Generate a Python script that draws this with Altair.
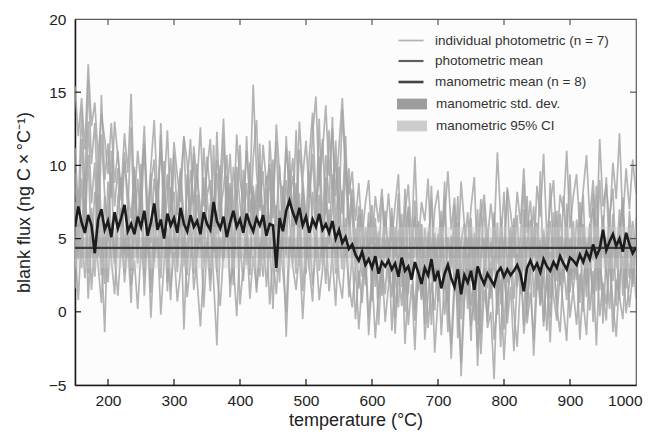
import altair as alt
import pandas as pd

# temperature grid (°C)
temps = list(range(150, 1001, 5))

# individual photometric blank runs (ng C x °C^-1), read approx. from figure
s1 = [9.5, 4.2, 11.8, 6.1, 13.0, 7.4, 10.2, 3.8, 12.1, 8.0, 5.6, 11.0, 7.2, 9.8, 4.5, 10.9, 6.8, 12.6, 5.1,
      9.1, 6.3, 11.5, 4.9, 8.7, 10.4, 5.8, 12.9, 7.0, 9.4, 3.9, 10.8, 6.6, 8.9, 11.9, 5.2, 9.7, 7.3, 10.1,
      4.6, 11.2, 7.9, 9.0, 5.5, 12.3, 6.9, 8.4, 10.7, 4.8, 9.9, 7.6, 11.4, 6.0, 8.8, 5.3, 10.5, 13.1, 7.1,
      9.6, 5.0, 11.7, 8.1, 6.4, 10.0, 4.7, 12.0, 7.7, 9.3, 5.9, 11.1, 8.5, 6.2, 10.6, 13.6, 7.5, 9.2, 11.8,
      6.7, 12.4, 8.3, 10.3, 7.0, 13.8, 9.1, 6.0, 8.4, 4.1, 7.2, 5.0, 3.2, 6.8, 2.4, 5.9, 3.6, 7.8, 4.3,
      2.9, 6.5, 3.8, 8.1, 1.7, 5.4, 7.0, 2.2, 4.9, 6.2, 0.8, 5.7, 3.5, 8.6, 2.6, 4.4, 6.9, 1.5, 5.1,
      3.0, 7.3, 0.4, 4.8, 6.0, 1.9, 5.5, -0.6, 4.1, 7.7, 2.8, 5.2, 0.9, 6.4, 3.3, 4.6, 8.2, 2.0, 5.8,
      3.7, 6.6, 1.2, 5.0, 7.9, 2.5, 4.3, 6.1, 0.6, 5.6, 3.1, 8.8, 4.0, 2.1, 6.7, 3.9, 5.3, 9.4, 2.7,
      6.3, 4.5, 8.0, 1.8, 5.9, 7.1, 3.4, 9.0, 4.8, 2.3, 6.5, 8.4, 3.0, 5.7, 7.6, 1.6, 6.9, 4.2, 5.5]
s2 = [3.1, 8.4, 5.0, 9.7, 2.6, 7.1, 4.3, 10.5, 6.2, 1.9, 8.9, 5.5, 3.4, 7.8, 9.2, 4.0, 6.7, 2.8, 8.1,
      5.2, 10.1, 3.7, 7.4, 2.1, 6.0, 9.0, 4.5, 7.7, 1.4, 8.5, 5.8, 3.0, 9.6, 6.4, 2.5, 7.2, 10.8, 4.1,
      6.9, 3.3, 8.0, 5.1, 11.4, 2.7, 7.5, 4.6, 9.3, 6.1, 1.8, 8.3, 4.9, 7.0, 3.2, 10.2, 5.6, 8.7, 2.4,
      7.3, 4.8, 9.8, 3.6, 6.6, 2.0, 8.6, 5.3, 11.0, 4.2, 7.9, 3.1, 9.1, 6.3, 2.9, 8.2, 5.7, 10.6, 3.8,
      7.6, 5.0, 9.4, 2.6, 8.0, 4.4, 10.3, 6.8, 3.9, 5.7, 1.6, 4.6, 2.2, 6.1, 0.7, 3.8, 5.5, 1.1, 4.9,
      2.0, 6.3, -0.4, 3.6, 5.1, 1.3, 7.2, 2.7, 0.1, 4.5, 6.0, 1.8, 3.9, -0.9, 5.4, 2.4, 4.2, 7.8, 0.6,
      3.5, 5.9, -1.8, 2.9, 4.7, 0.2, 6.4, 1.6, -2.5, 3.8, 5.0, -0.7, 2.3, 6.8, 1.0, 4.4, -1.2, 3.1, 5.6,
      0.9, 4.0, 2.2, 7.0, -0.3, 3.4, 5.8, 1.5, 4.6, -1.0, 2.8, 6.2, 3.6, 0.4, 5.2, 2.0, 7.4, 1.3, 4.1,
      2.7, 6.6, 0.0, 4.8, 3.2, 8.1, 1.4, 5.0, -0.8, 3.9, 6.4, 2.1, 4.5, 0.8, 7.3, 3.0, 5.3, 1.9, 4.6]
s3 = [1.6, 6.0, 3.0, 7.7, 0.9, 5.2, 2.4, 8.0, 4.1, -1.4, 6.5, 3.6, 1.2, 5.8, 7.1, 2.0, 4.7, 0.6, 6.3,
      3.3, 7.9, 1.1, 5.5, -0.4, 4.2, 6.7, 2.3, 8.3, 3.9, 0.8, 5.9, 2.7, 7.0, -1.2, 4.6, 6.1, 1.5, 3.8,
      5.7, 0.3, 4.4, 7.4, 2.1, -2.3, 5.1, 3.5, 8.6, 1.0, 4.9, 6.8, 0.5, 3.1, 5.6, 2.5, 7.6, 1.3, 4.0,
      6.2, 1.7, 4.8, 0.2, 7.3, 3.4, 5.4, -1.7, 4.3, 6.6, 2.6, 8.1, 1.4, 4.7, 3.0, 0.7, 6.0, 2.8, 5.2,
      1.9, 7.0, 3.7, 0.4, 5.8, 2.9, 6.4, 1.0, 4.0, -0.5, 2.8, 0.6, 3.9, -1.6, 2.1, 4.7, -0.9, 3.2, 1.2,
      5.0, -1.3, 2.6, 0.3, 4.3, -2.2, 1.9, 3.5, -0.6, 2.4, 5.3, -1.9, 1.1, 3.7, -2.8, 0.9, 4.1, -0.2, 2.2,
      -3.2, 1.5, 3.8, -4.4, 0.7, 2.9, -2.0, 4.5, -3.7, 1.2, 3.3, -1.1, 0.0, -4.6, 2.6, -2.4, 3.9, -0.8, 1.7,
      -2.7, 2.3, 4.4, -1.5, 0.8, 3.0, -3.0, 1.9, 4.9, -0.7, 2.5, -2.1, 3.6, 0.3, -1.4, 2.9, 5.1, -0.4, 1.6,
      3.4, -1.9, 2.0, 4.6, 0.1, 2.8, -2.3, 3.7, 1.3, -0.6, 4.2, 0.5, -1.7, 2.4, 3.8, -0.1, 1.9, 4.0, 0.9]
s4 = [11.2, 7.0, 13.8, 8.5, 15.8, 10.1, 12.9, 6.9, 14.8, 9.0, 11.5, 7.8, 13.0, 10.6, 8.2, 12.2, 9.5, 14.9, 7.4,
      11.0, 8.6, 12.7, 6.5, 9.9, 13.1, 7.9, 10.9, 8.4, 12.4, 6.8, 11.6, 9.3, 7.5, 12.0, 10.2, 6.3, 11.3, 8.8,
      12.6, 7.2, 9.7, 11.8, 6.6, 10.4, 8.9, 13.2, 7.7, 10.8, 6.1, 12.1, 9.0, 7.4, 11.0, 8.0, 15.5, 9.6, 6.9,
      11.4, 8.7, 10.1, 6.4, 12.8, 9.4, 7.6, 11.2, 8.3, 10.5, 6.7, 13.0, 9.1, 11.7, 7.8, 12.2, 14.7, 8.6, 10.9,
      14.1, 9.3, 12.5, 7.9, 11.3, 14.6, 10.2, 8.0, 9.6, 6.2, 8.8, 5.1, 7.4, 9.0, 4.6, 7.9, 6.1, 8.4, 5.3,
      8.1, 4.9, 7.3, 9.4, 3.9, 6.8, 8.7, 5.0, 10.6, 4.4, 7.5, 6.2, 9.1, 3.5, 7.0, 8.3, 4.8, 6.4, 9.6,
      5.6, 7.8, 3.7, 8.9, 5.9, 4.3, 7.1, 9.2, 3.1, 6.6, 8.0, 4.9, 7.4, 5.2, 10.9, 6.3, 4.0, 8.5, 6.8,
      4.7, 8.2, 6.0, 9.8, 5.4, 7.6, 3.8, 8.6, 6.5, 10.8, 5.0, 7.3, 9.0, 4.5, 8.0, 6.9, 11.0, 5.7, 7.9,
      9.4, 5.5, 8.3, 10.7, 6.4, 9.0, 4.8, 11.8, 7.2, 8.7, 5.9, 10.2, 7.7, 12.2, 6.1, 9.8, 7.0, 10.4, 8.1]
s5 = [4.4, 0.8, 5.6, 2.3, 6.7, 1.5, 4.9, 3.2, 0.6, 5.4, 2.0, 6.1, 3.7, 1.1, 4.6, 2.7, 5.9, 1.8, 3.5,
      0.2, 4.3, 2.5, 6.4, 1.3, 3.9, 5.2, -0.2, 3.4, 5.7, 1.7, 4.1, 0.7, 2.9, 5.0, 1.0, 3.6, 6.2, 2.2,
      -1.0, 3.0, 4.8, 1.4, 5.5, 2.6, 0.4, 4.0, 6.0, 1.9, 3.3, -0.3, 4.5, 2.1, 5.3, 0.9, 3.8, 1.6, 4.7,
      2.4, 5.6, 0.5, 3.7, 1.2, 4.9, 2.8, 0.0, 5.2, 3.1, 1.5, 4.2, -0.5, 3.5, 5.8, 1.8, 4.4, 0.8, 2.9,
      5.1, 1.4, 3.9, 6.0, 2.3, 0.9, 4.6, 2.0, 0.3, 3.1, -1.2, 1.9, 4.0, -0.4, 2.5, -1.8, 1.4, 3.3, -0.7,
      1.8, 3.6, -1.5, 2.7, 0.4, 4.5, -0.9, 1.9, -2.6, 2.8, 0.9, 4.2, -1.1, 2.0, 0.1, 3.9, -1.6, 2.3, 0.5,
      -2.2, 2.6, 0.3, -3.5, 1.8, 4.0, -1.0, 0.8, 3.0, -2.9, 1.5, -0.3, 3.4, -1.9, 0.6, 2.2, -3.3, 1.0, 2.9,
      0.0, -2.4, 2.1, 3.7, -0.8, 1.3, -1.9, 3.2, 0.4, 2.4, -1.3, 4.1, 1.1, -0.6, 2.7, 0.2, -2.0, 3.3, 1.4,
      -0.9, 2.6, 0.7, -1.6, 3.5, 1.2, 4.4, -0.3, 2.0, 0.5, 3.8, -1.4, 2.2, 1.0, -0.5, 3.1, 0.3, 2.5, 4.3]
s6 = [7.5, 3.6, 9.1, 5.3, 10.7, 4.0, 8.2, 6.3, 2.5, 7.9, 4.8, 9.6, 3.3, 6.9, 8.6, 3.9, 7.3, 5.0, 9.9,
      4.4, 8.8, 2.9, 6.2, 9.5, 3.4, 7.6, 5.1, 10.3, 2.0, 6.8, 8.2, 4.0, 6.5, 3.1, 9.4, 5.6, 2.6, 8.0,
      4.7, 9.2, 6.0, 2.2, 7.8, 5.3, 10.0, 3.6, 6.4, 8.5, 2.9, 7.0, 4.3, 9.7, 5.9, 3.0, 8.3, 6.6, 11.5,
      3.5, 8.4, 5.6, 10.4, 2.7, 6.9, 4.1, 9.0, 6.2, 3.3, 8.8, 5.0, 7.4, 2.6, 9.6, 6.1, 4.5, 8.0, 3.2,
      9.2, 4.6, 7.1, 11.7, 5.4, 8.3, 3.8, 9.8, 6.5, 2.9, 5.2, 7.0, 1.8, 4.9, 3.2, 6.4, 0.9, 4.4, 6.9,
      3.4, 1.0, 5.8, 2.3, 6.7, 0.0, 4.1, 2.9, 7.6, 1.4, 3.8, -0.8, 5.5, 2.6, 4.8, 0.7, 6.2, 3.2, -1.4,
      4.6, 1.9, 6.1, -0.5, 3.6, 5.0, 0.4, 2.7, 7.0, -1.5, 3.2, 5.7, 1.3, 3.8, -0.2, 6.5, 2.4, 0.1, 4.3,
      5.9, 1.7, 3.5, -0.9, 4.8, 6.3, 1.0, 3.9, 0.5, 5.4, 2.6, -0.4, 4.4, 6.9, 1.9, 3.3, 0.8, 5.0, 2.2,
      4.0, 0.6, 6.0, 2.9, 5.2, -0.7, 3.7, 1.5, 6.6, 2.8, 0.2, 5.1, 3.4, 7.0, 1.1, 4.7, 2.3, 6.2, 3.6]
s7 = [15.4, 12.0, 14.6, 11.1, 16.9, 12.7, 14.3, 10.5, 13.5, 11.8, 9.4, 12.9, 8.8, 11.0, 7.6, 10.3, 8.1, 6.4, 9.7,
      5.8, 8.3, 11.4, 6.9, 4.7, 9.1, 7.2, 12.1, 5.3, 8.0, 10.5, 4.9, 7.5, 9.8, 3.8, 8.7, 11.8, 6.0, 9.3,
      7.0, 5.0, 10.6, 8.2, 4.1, 9.5, 6.3, 11.9, 5.7, 8.8, 3.6, 9.9, 7.4, 5.2, 12.0, 6.8, 8.6, 4.4, 10.1,
      6.0, 9.3, 4.6, 8.1, 11.6, 5.5, 7.9, 3.9, 9.7, 6.6, 12.4, 5.1, 8.5, 4.3, 7.3, 10.8, 6.2, 13.2, 5.9,
      10.7, 7.4, 13.3, 5.6, 9.9, 6.7, 12.0, 4.9, 7.8, 3.3, 6.6, 2.4, 5.8, 3.9, 7.3, 1.7, 5.0, 2.9, 6.3,
      4.0, 7.1, 2.1, 5.6, 3.0, 8.4, 1.2, 4.7, 6.5, 2.5, 5.9, 0.6, 4.4, 7.7, 2.0, 5.3, 3.4, 8.9, 1.5,
      5.2, 3.0, 7.9, 0.8, 4.5, 6.8, 2.1, 5.4, -0.9, 3.9, 7.4, 1.6, 4.8, 2.9, 6.1, 0.5, 3.6, 8.3, 2.3,
      6.4, 2.8, 5.1, 8.7, 1.1, 4.2, 7.2, 3.0, 9.6, 2.0, 5.5, 0.9, 6.8, 3.7, 1.8, 7.9, 4.0, 2.4, 6.2,
      2.2, 7.5, 4.9, 1.0, 6.0, 3.5, 8.6, 2.6, 5.4, 9.2, 3.2, 6.7, 0.4, 4.8, 7.8, 2.9, 5.9, 1.7, 6.4]

# manometric mean (n = 8)
mano_mean = [5.8, 7.2, 6.1, 5.4, 6.6, 5.9, 4.0, 6.3, 7.0, 5.6, 6.2, 5.1, 6.8, 5.7, 6.4, 7.3, 5.5, 6.0, 5.3,
             6.5, 5.8, 6.9, 5.2, 6.1, 7.4, 5.6, 6.3, 5.0, 6.7, 5.9, 6.4, 5.4, 7.1, 6.0, 5.5, 6.6, 5.8, 6.2,
             5.3, 6.8, 6.0, 5.6, 7.5, 6.2, 5.7, 6.5, 5.1, 6.1, 6.9, 5.8, 6.3, 5.4, 6.7, 6.0, 5.5, 6.4, 5.9,
             6.6, 5.2, 6.0, 5.9, 3.0, 6.4, 5.5, 6.9, 7.6, 6.8, 6.2, 7.1, 5.9, 6.5, 5.4, 6.3, 5.8, 6.7, 5.6,
             6.0, 5.4, 6.2, 5.0, 5.6, 4.7, 5.1, 4.3, 4.6, 3.9, 3.5, 4.1, 3.2, 3.6, 3.0, 3.8, 2.6, 3.4, 3.1,
             3.5, 2.9, 3.3, 2.4, 3.7, 2.8, 3.1, 2.2, 3.4, 2.7, 1.9, 3.0, 2.5, 3.6, 2.1, 2.8, 1.6, 2.6, 3.2,
             2.3, 1.7, 2.9, 1.2, 2.5, 2.0, 2.8, 1.5, 3.1, 2.4, 1.9, 2.6, 2.2, 1.8, 2.7, 3.0, 2.4, 2.9, 2.5,
             2.8, 3.2, 2.6, 1.4, 3.0, 3.5, 2.9, 3.3, 2.7, 3.6, 3.1, 2.8, 3.4, 3.0, 3.8, 3.3, 2.9, 3.7, 3.5,
             3.2, 3.9, 3.4, 4.1, 3.6, 4.6, 3.8, 4.3, 5.6, 4.2, 4.8, 5.3, 4.5, 5.0, 4.1, 5.4, 4.6, 4.0, 4.4]

# flat photometric mean and the shaded bands
band_temps = [150, 1000]
phot_mean = [4.37, 4.37]
sd_low = [3.67, 3.67]
sd_high = [5.07, 5.07]
ci_low = [2.95, 2.95]
ci_high = [5.8, 5.8]

x_ticks = [200, 300, 400, 500, 600, 700, 800, 900]
y_ticks = [0, 5, 10, 15]

LBL_IND = "individual photometric (n = 7)"
LBL_PM = "photometric mean"
LBL_MM = "manometric mean (n = 8)"
LBL_SD = "manometric std. dev."
LBL_CI = "manometric 95% CI"

W, H = 561, 366
FONT = "Liberation Sans"

rows = []
for name, vals in [("r1", s1), ("r2", s2), ("r3", s3), ("r4", s4), ("r5", s5), ("r6", s6), ("r7", s7)]:
    for t, v in zip(temps, vals):
        rows.append({"temp": t, "flux": v, "run": name, "lbl": LBL_IND})
ind_df = pd.DataFrame(rows)
n_mm = min(len(temps), len(mano_mean))
mm_df = pd.DataFrame({"temp": temps[:n_mm], "flux": mano_mean[:n_mm], "lbl": LBL_MM})
pm_df = pd.DataFrame({"temp": band_temps, "flux": phot_mean, "lbl": LBL_PM})
band_df = pd.DataFrame({
    "temp": band_temps * 2,
    "flux": ci_low + sd_low,
    "hi": ci_high + sd_high,
    "band": [LBL_CI, LBL_CI, LBL_SD, LBL_SD],
})

xscale = alt.Scale(domain=[150, 1000], nice=False, zero=False)
yscale = alt.Scale(domain=[-5, 20], nice=False, zero=False)

line_scale = alt.Scale(domain=[LBL_IND, LBL_PM, LBL_MM], range=["#a3a3a3", "#3c3c3c", "#1c1c1c"])
width_scale = alt.Scale(domain=[LBL_IND, LBL_PM, LBL_MM], range=[1.7, 2.6, 2.8])
fill_scale = alt.Scale(domain=[LBL_SD, LBL_CI], range=["#9e9e9e", "#cdcdcd"])

line_legend = alt.Legend(
    orient="none", legendX=322, legendY=8, symbolType="stroke", symbolSize=625,
    labelOffset=10, labelFont=FONT, labelFontSize=13.5,
    labelColor="#333333", rowPadding=-3.5, padding=0, labelLimit=300,
)
fill_legend = alt.Legend(
    orient="none", legendX=322, legendY=70, symbolType="M-1,-0.36H1V0.36H-1Z",
    symbolSize=900, symbolStrokeWidth=0, symbolOpacity=1, labelOffset=9, labelFont=FONT,
    labelFontSize=13.5, labelColor="#333333", rowPadding=-8.5, padding=0, labelLimit=300,
)

x_axis = alt.Axis(values=[200, 300, 400, 500, 600, 700, 800, 900, 1000], format="d",
                  title="temperature (°C)",
                  tickSize=0, labelPadding=8, labelFlush=True, labelFlushOffset=6, grid=False,
                  domainColor="#1a1a1a", domainWidth=1.5, labelFont=FONT, labelFontSize=15.5,
                  labelColor="#222222", titleFont=FONT, titleFontSize=18, titleFontWeight="normal",
                  titleColor="#222222", titlePadding=3)
y_axis = alt.Axis(values=[-5, 0, 5, 10, 15, 20], title="blank flux (ng C\u2009×\u2009°C⁻¹)",
                  tickSize=0, labelPadding=9, labelFlush=False, grid=False,
                  domainColor="#1a1a1a", domainWidth=1.5, labelFont=FONT, labelFontSize=15.5,
                  labelColor="#222222", titleFont=FONT, titleFontSize=18, titleFontWeight="normal",
                  titleColor="#222222", titlePadding=15)

X = alt.X("temp:Q", scale=xscale, axis=x_axis)
Y = alt.Y("flux:Q", scale=yscale, axis=y_axis)

ind = alt.Chart(ind_df).mark_line(opacity=0.82, clip=True).encode(
    x=X, y=Y,
    color=alt.Color("lbl:N", scale=line_scale, legend=line_legend, title=None),
    strokeWidth=alt.StrokeWidth("lbl:N", scale=width_scale, legend=line_legend, title=None),
    detail="run:N",
)

bands = alt.Chart(band_df).mark_area(opacity=0.4).encode(
    x=X, y=Y, y2="hi:Q",
    fill=alt.Fill("band:N", scale=fill_scale, legend=fill_legend, title=None),
    detail="band:N",
)

pm = alt.Chart(pm_df).mark_line().encode(
    x=X, y=Y,
    color=alt.Color("lbl:N", scale=line_scale, legend=line_legend, title=None),
    strokeWidth=alt.StrokeWidth("lbl:N", scale=width_scale, legend=line_legend, title=None),
)

mm = alt.Chart(mm_df).mark_line(clip=True).encode(
    x=X, y=Y,
    color=alt.Color("lbl:N", scale=line_scale, legend=line_legend, title=None),
    strokeWidth=alt.StrokeWidth("lbl:N", scale=width_scale, legend=line_legend, title=None),
)

xt_df = pd.DataFrame({"temp": x_ticks})
yt_df = pd.DataFrame({"flux": y_ticks})
bottom_ticks = alt.Chart(xt_df).mark_rule(color="#1a1a1a", strokeWidth=1.2).encode(
    x=X, y=alt.value(H), y2=alt.value(H - 6))
top_ticks = alt.Chart(xt_df).mark_rule(color="#555555", strokeWidth=1.2).encode(
    x=X, y=alt.value(0), y2=alt.value(6))
left_ticks = alt.Chart(yt_df).mark_rule(color="#1a1a1a", strokeWidth=1.2).encode(
    y=Y, x=alt.value(0), x2=alt.value(6))
right_ticks = alt.Chart(yt_df).mark_rule(color="#555555", strokeWidth=1.2).encode(
    y=Y, x=alt.value(W - 6), x2=alt.value(W))

chart = alt.layer(ind, bands, pm, mm, bottom_ticks, top_ticks, left_ticks, right_ticks).properties(
    width=W, height=H, autosize="none",
    padding={"left": 67, "top": 11, "right": 7, "bottom": 45},
).configure(font=FONT).configure_view(stroke="#5a5a5a", strokeWidth=1.2, fill="#fcfcfc")

chart.save("out.html", embed_options={"renderer": "svg", "actions": False})
